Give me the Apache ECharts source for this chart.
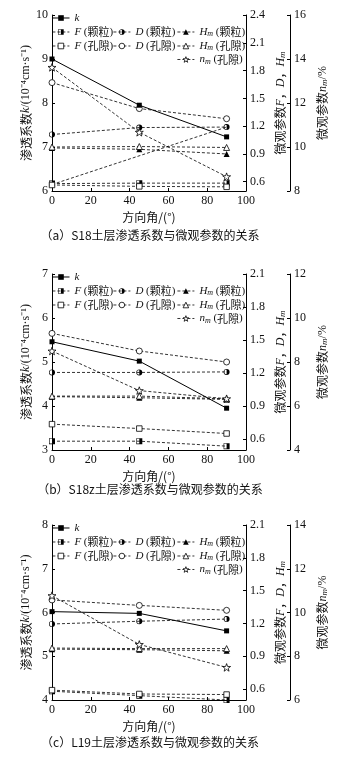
<!DOCTYPE html>
<html>
<head>
<meta charset="utf-8">
<script src="https://cdn.jsdelivr.net/npm/echarts@6/dist/echarts.min.js"></script>
<style>
  html, body { margin: 0; background: #fff; }
  #chart { width: 351px; height: 759px; }
</style>
</head>
<body>
<div id="chart"></div>
<script>
// 方向角
const angles = [0, 45, 90]

// (a) S18
const kA = [9.0, 7.95, 7.23]
const fGrainA = [0.58, 0.585, 0.585]
const fPoreA = [0.565, 0.55, 0.545]
const dGrainA = [1.11, 1.185, 1.19]
const dPoreA = [1.67, 1.39, 1.28]
const hGrainA = [0.965, 0.95, 0.90]
const hPoreA = [0.975, 0.98, 0.97]
const nPoreA = [13.62, 10.67, 8.65]
const strayA = [0.57, null, 1.19]   // 原图中一条无标记的连线

// (b) S18z
const kB = [5.46, 5.02, 3.95]
const fGrainB = [0.58, 0.58, 0.535]
const fPoreB = [0.735, 0.695, 0.65]
const dGrainB = [1.205, 1.205, 1.21]
const dPoreB = [1.56, 1.40, 1.30]
const hGrainB = [0.985, 0.975, 0.96]
const hPoreB = [0.99, 0.99, 0.965]
const nPoreB = [8.5, 6.7, 6.33]

// (c) L19
const kC = [6.02, 5.98, 5.58]
const fGrainC = [0.58, 0.54, 0.50]
const fPoreC = [0.59, 0.555, 0.55]
const dGrainC = [1.195, 1.22, 1.24]
const dPoreC = [1.415, 1.365, 1.32]
const hGrainC = [0.965, 0.96, 0.95]
const hPoreC = [0.975, 0.97, 0.97]
const nPoreC = [10.77, 8.54, 7.49]

// 刻度
const micTicksA = [0.6, 0.9, 1.2, 1.5, 1.8, 2.1, 2.4]
const micTicksBC = [0.6, 0.9, 1.2, 1.5, 1.8, 2.1]

const captions = [
  '（a）S18土层渗透系数与微观参数的关系',
  '（b）S18z土层渗透系数与微观参数的关系',
  '（c）L19土层渗透系数与微观参数的关系'
]

const serif = '"Liberation Serif", "Times New Roman", "Noto Sans CJK SC", serif'
const cjk = '"Noto Sans CJK SC", "Liberation Serif", sans-serif'

const panels = [
  { top: 15, height: 176, k: kA, fG: fGrainA, fP: fPoreA, dG: dGrainA, dP: dPoreA, hG: hGrainA, hP: hPoreA, n: nPoreA, stray: strayA,
    kMin: 6, kMax: 10, micMax: 2.4, micTicks: micTicksA, nMin: 8, nMax: 16, capTop: 229 },
  { top: 274, height: 176, k: kB, fG: fGrainB, fP: fPoreB, dG: dGrainB, dP: dPoreB, hG: hGrainB, hP: hPoreB, n: nPoreB, stray: null,
    kMin: 3, kMax: 7, micMax: 2.1, micTicks: micTicksBC, nMin: 4, nMax: 12, capTop: 483 },
  { top: 525, height: 175, k: kC, fG: fGrainC, fP: fPoreC, dG: dGrainC, dP: dPoreC, hG: hGrainC, hP: hPoreC, n: nPoreC, stray: null,
    kMin: 4, kMax: 8, micMax: 2.1, micTicks: micTicksBC, nMin: 6, nMax: 14, capTop: 736 }
]

const halfSquare = 'path://M0,0L20,0L20,20L0,20Z M2,2L2,18L18,18L18,2Z M10,0L20,0L20,20L10,20Z'
const halfCircle = 'path://M0,10A10,10 0 1 1 20,10A10,10 0 1 1 0,10Z M2,10A8,8 0 1 0 18,10A8,8 0 1 0 2,10Z M10,0A10,10 0 0 1 10,20Z'
const star = 'path://M10,0L12.35,6.76L19.51,6.91L13.8,11.24L15.88,18.09L10,14L4.12,18.09L6.2,11.24L0.49,6.91L7.65,6.76Z'

const solidFill = { color: '#000', borderColor: '#000', borderWidth: 0 }
const openFill = { color: '#fff', borderColor: '#000', borderWidth: 0.8 }
const dashed = { color: '#000', width: 0.8, type: [3, 2] }
const solid = { color: '#000', width: 1, type: 'solid' }

// 各系列的符号样式
const styles = {
  'k': { symbol: 'rect', item: solidFill, line: solid, size: 5 },
  'F (颗粒)': { symbol: halfSquare, item: solidFill, line: dashed, size: 6 },
  'D (颗粒)': { symbol: halfCircle, item: solidFill, line: dashed, size: 6 },
  'H (颗粒)': { symbol: 'triangle', item: solidFill, line: dashed, size: 6 },
  'F (孔隙)': { symbol: 'rect', item: openFill, line: dashed, size: 5.5 },
  'D (孔隙)': { symbol: 'circle', item: openFill, line: dashed, size: 6 },
  'H (孔隙)': { symbol: 'triangle', item: openFill, line: dashed, size: 6 },
  'n (孔隙)': { symbol: star, item: openFill, line: dashed, size: 8 }
}

const richStyle = {
  t: { fontFamily: serif, fontSize: 11, color: '#111' },
  c: { fontFamily: cjk, fontSize: 11, color: '#111' },
  i: { fontFamily: serif, fontSize: 11, fontStyle: 'italic', color: '#111' },
  s: { fontFamily: serif, fontSize: 8, fontStyle: 'italic', color: '#111', verticalAlign: 'bottom', padding: [4, 0, 0, 0] }
}
const nameRich = {
  t: { fontFamily: cjk, fontSize: 12, color: '#111' },
  r: { fontFamily: serif, fontSize: 12, color: '#111' },
  i: { fontFamily: serif, fontSize: 12, fontStyle: 'italic', color: '#111' },
  s: { fontFamily: serif, fontSize: 9, fontStyle: 'italic', color: '#111', verticalAlign: 'bottom', padding: [4, 0, 0, 0] }
}

const legendText = {
  'k': '{i|k}',
  'F (颗粒)': '{i|F}{t| (}{c|颗粒}{t|)}',
  'D (颗粒)': '{i|D}{t| (}{c|颗粒}{t|)}',
  'H (颗粒)': '{i|H}{s|m}{t| (}{c|颗粒}{t|)}',
  'F (孔隙)': '{i|F}{t| (}{c|孔隙}{t|)}',
  'D (孔隙)': '{i|D}{t| (}{c|孔隙}{t|)}',
  'H (孔隙)': '{i|H}{s|m}{t| (}{c|孔隙}{t|)}',
  'n (孔隙)': '{i|n}{s|m}{t| (}{c|孔隙}{t|)}'
}
// 图例位置（相对绘图区顶部）
const legendPos = [
  ['k', 52, 4.5],
  ['F (颗粒)', 52, 18.5], ['D (颗粒)', 113, 18.5], ['H (颗粒)', 177, 18.5],
  ['F (孔隙)', 52, 32.5], ['D (孔隙)', 113, 32.5], ['H (孔隙)', 177, 32.5],
  ['n (孔隙)', 177, 46]
]

const toPts = arr => angles.map((a, j) => [a, arr[j]])

const axisLine = { show: true, lineStyle: { color: '#000', width: 1 } }
const axisTick = { show: true, inside: true, length: 3, lineStyle: { color: '#000', width: 1 } }
const axisLabel = { color: '#111', fontSize: 12, fontFamily: serif, margin: 4 }

const grid = [], xAxis = [], yAxis = [], series = [], legend = [], title = []

panels.forEach((p, i) => {
  grid.push({ left: 52, width: 194, top: p.top, height: p.height })
  xAxis.push({
    type: 'value', gridIndex: i, min: 0, max: 100, interval: 20,
    axisLine, axisTick, axisLabel, splitLine: { show: false },
    name: '方向角/(°)', nameLocation: 'middle', nameGap: 20, nameMoveOverlap: false,
    nameTextStyle: { fontFamily: cjk, fontSize: 12, color: '#111' }
  })
  yAxis.push({
    type: 'value', gridIndex: i, position: 'left', min: p.kMin, max: p.kMax, interval: 1,
    axisLine, axisTick, axisLabel, splitLine: { show: false },
    name: '{t|渗透系数}{i|k}{r|/(10⁻⁴cm·s⁻¹)}', nameLocation: 'middle', nameGap: 20, nameRotate: 90,
    nameMoveOverlap: false,
    nameTextStyle: { rich: nameRich }
  })
  yAxis.push({
    type: 'value', gridIndex: i, position: 'right', min: 0.5, max: p.micMax,
    axisLine, splitLine: { show: false },
    axisTick: Object.assign({}, axisTick, { customValues: p.micTicks }),
    axisLabel: Object.assign({}, axisLabel, { customValues: p.micTicks, formatter: v => v.toFixed(1) }),
    name: '{t|微观参数}{i|F}{t|，}{i|D}{t|，}{i|H}{s|m}', nameLocation: 'middle', nameGap: 28, nameRotate: 90,
    nameMoveOverlap: false,
    nameTextStyle: { rich: nameRich }
  })
  yAxis.push({
    type: 'value', gridIndex: i, position: 'right', offset: 44, min: p.nMin, max: p.nMax, interval: 2,
    axisLine, axisTick, axisLabel, splitLine: { show: false },
    name: '{t|微观参数}{i|n}{s|m}{r|/%}', nameLocation: 'middle', nameGap: 26, nameRotate: 90,
    nameMoveOverlap: false,
    nameTextStyle: { rich: nameRich }
  })

  const yk = i * 3, ym = i * 3 + 1, yn = i * 3 + 2
  const base = { type: 'line', xAxisIndex: i, clip: false, animation: false, symbolKeepAspect: true }
  const mk = (name, data, yIdx) => {
    const st = styles[name]
    return Object.assign({}, base, {
      name, yAxisIndex: yIdx, data: toPts(data), symbol: st.symbol, symbolSize: st.size,
      itemStyle: st.item, lineStyle: st.line
    })
  }

  if (p.stray) {
    series.push(Object.assign({}, base, {
      name: 'stray', yAxisIndex: ym, data: toPts(p.stray), symbol: 'none', connectNulls: true,
      lineStyle: dashed
    }))
  }
  series.push(mk('F (颗粒)', p.fG, ym))
  series.push(mk('F (孔隙)', p.fP, ym))
  series.push(mk('H (颗粒)', p.hG, ym))
  series.push(mk('H (孔隙)', p.hP, ym))
  series.push(mk('D (颗粒)', p.dG, ym))
  series.push(mk('D (孔隙)', p.dP, ym))
  series.push(mk('n (孔隙)', p.n, yn))
  series.push(mk('k', p.k, yk))

  legendPos.forEach(([name, x, dy]) => {
    const st = styles[name]
    legend.push({
      data: [{ name, itemStyle: st.item, lineStyle: st.line }],
      left: x, top: p.top + dy - 7, padding: 0, itemGap: 0,
      itemWidth: 17, itemHeight: 7, selectedMode: false,
      itemStyle: { borderWidth: st.item.borderWidth },
      formatter: n => legendText[n],
      textStyle: { rich: richStyle, fontSize: 11, fontFamily: serif, color: '#111' }
    })
  })

  title.push({
    text: captions[i], left: 150, top: p.capTop, textAlign: 'center', padding: 0,
    textStyle: { fontFamily: cjk, fontSize: 12, fontWeight: 'normal', color: '#111' }
  })
})

const chart = echarts.init(document.getElementById('chart'))
chart.setOption({
  backgroundColor: '#fff',
  animation: false,
  title, grid, xAxis, yAxis, legend, series
})
window.addEventListener('resize', () => chart.resize())
</script>
</body>
</html>
